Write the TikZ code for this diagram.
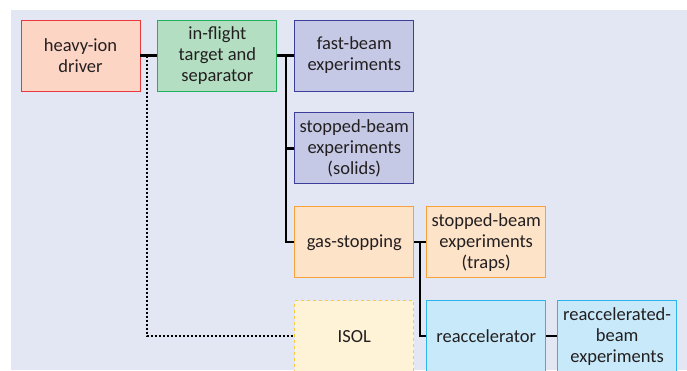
\documentclass[tikz,border=0pt]{standalone}
\usepackage{fontspec}
\setmainfont{Carlito}
\usetikzlibrary{positioning,calc}
\definecolor{bgblue}{HTML}{E3E7F3}
\definecolor{txtgray}{HTML}{231F20}
\tikzset
{
    stage/.style = {rectangle, draw, align=center, minimum width=119pt, minimum height=71pt, inner sep=2pt, text=txtgray, font=\fontsize{18.5}{21}\selectfont, line width=0.9pt},
    driverbox/.style = {stage, draw={rgb,255:red,232;green,55;blue,61}, fill={rgb,255:red,252;green,213;blue,197}},
    flightbox/.style = {stage, draw={rgb,255:red,29;green,179;blue,90}, fill={rgb,255:red,179;green,222;blue,193}},
    expbox/.style = {stage, draw={rgb,255:red,60;green,63;blue,154}, fill={rgb,255:red,197;green,201;blue,229}},
    gasbox/.style = {stage, draw={rgb,255:red,247;green,161;blue,60}, fill={rgb,255:red,253;green,227;blue,200}},
    isolbox/.style = {stage, dashed, draw={rgb,255:red,249;green,202;blue,58}, fill={rgb,255:red,254;green,243;blue,214}},
    reaccbox/.style = {stage, draw={rgb,255:red,44;green,181;blue,234}, fill={rgb,255:red,199;green,233;blue,249}},
    link/.style = {draw=black, line width=2.3pt},
    isollink/.style = {draw=black, line width=2.3pt, dash pattern=on 2.2pt off 1.8pt}
}
\begin{document}
\begin{tikzpicture}[x=1pt,y=-1pt]
	\useasboundingbox (0,0) rectangle (687,370);
	\fill[bgblue] (11,10) rectangle (687,370);
	% top row
	\node[driverbox] (driver) at (80.5,55.5) {heavy-ion\\driver};
	\node[flightbox, right=17pt of driver] (inflight) {in-flight\\target and\\separator};
	\node[expbox, right=17pt of inflight] (fast) {fast-beam\\experiments};
	% branches
	\node[expbox, below=21pt of fast] (solids) {stopped-beam\\experiments\\(solids)};
	\node[gasbox, below=22pt of solids] (gas) {gas-stopping};
	\node[gasbox, right=12pt of gas] (traps) {stopped-beam\\experiments\\(traps)};
	\node[isolbox, below=22pt of gas] (isol) {ISOL};
	\node[reaccbox, right=12pt of isol] (reacc) {reaccelerator};
	\node[reaccbox, right=11pt of reacc] (reaccexp) {reaccelerated-\\beam\\experiments};
	% connectors
	\coordinate (tap) at ($(driver.east)!0.4!(inflight.west)$);
	\coordinate (trunk) at ($(inflight.east)!0.5!(fast.west)$);
	\coordinate (gastrunk) at ($(gas.east)!0.45!(traps.west)$);
	\draw[isollink] (tap) |- (isol.west);
	\draw[link] (driver) -- (inflight);
	\draw[link] (inflight) -- (fast);
	\draw[link] (trunk) |- (solids.west);
	\draw[link] (trunk) |- (gas.west);
	\draw[link] (gas) -- (traps);
	\draw[link] (gastrunk) |- (reacc.west);
	\draw[link] (reacc) -- (reaccexp);
\end{tikzpicture}
\end{document}
